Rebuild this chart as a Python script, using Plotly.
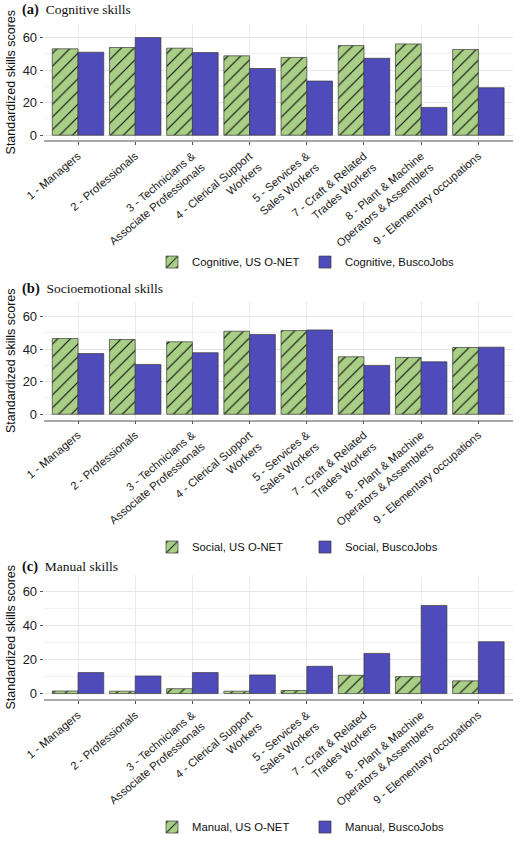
import plotly.graph_objects as go

categories = [
    "1 - Managers",
    "2 - Professionals",
    "3 - Technicians &<br>Associate Professionals",
    "4 - Clerical Support<br>Workers",
    "5 - Services &<br>Sales Workers",
    "7 - Craft & Related<br>Trades Workers",
    "8 - Plant & Machine<br>Operators & Assemblers",
    "9 - Elementary occupations",
]

cog_onet = [53.1, 53.9, 53.5, 48.8, 47.8, 55.1, 56.1, 52.7]
cog_busco = [51.0, 60.0, 50.8, 41.0, 33.3, 47.3, 17.1, 29.2]
soc_onet = [46.5, 45.9, 44.5, 51.0, 51.4, 35.3, 34.9, 41.0]
soc_busco = [37.3, 30.6, 37.8, 49.0, 51.8, 30.0, 32.2, 41.2]
man_onet = [1.5, 1.4, 2.9, 1.4, 1.8, 10.8, 10.0, 7.5]
man_busco = [12.4, 10.4, 12.4, 11.0, 16.1, 23.7, 52.0, 30.6]

panel_titles = [("(a)", "Cognitive skills"), ("(b)", "Socioemotional skills"), ("(c)", "Manual skills")]
legend_names = [("Cognitive, US O-NET", "Cognitive, BuscoJobs"),
                ("Social, US O-NET", "Social, BuscoJobs"),
                ("Manual, US O-NET", "Manual, BuscoJobs")]
y_tick_vals = [0, 20, 40, 60]

GREEN = "#a9cf87"
BLUE = "#4f4bbb"
H = 842.0
W = 520.0

def py(px):
    return 1 - px / H

panels = [
    dict(top=24, bottom=141, yr=[-3.24, 68.4], leg=263, title=10),
    dict(top=303, bottom=421, yr=[-3.24, 69.0], leg=549, title=290),
    dict(top=577, bottom=702, yr=[-3.5, 70.0], leg=830, title=569),
]
data = [(cog_onet, cog_busco), (soc_onet, soc_busco), (man_onet, man_busco)]

fig = go.Figure()
x_dom = [43.7 / W, 512.7 / W]

annotations = []
for i, (p, (a, b)) in enumerate(zip(panels, data)):
    n = "" if i == 0 else str(i + 1)
    leg = "legend" if i == 0 else f"legend{i+1}"
    fig.add_trace(go.Bar(
        x=categories, y=a, name=legend_names[i][0], xaxis="x" + n, yaxis="y" + n,
        legend=leg,
        marker=dict(color=GREEN, line=dict(color="#3a3a3a", width=0.7),
                    pattern=dict(shape="/", fillmode="overlay", fgcolor="#111111",
                                 fgopacity=1, size=9, solidity=0.13)),
    ))
    fig.add_trace(go.Bar(
        x=categories, y=b, name=legend_names[i][1], xaxis="x" + n, yaxis="y" + n,
        legend=leg,
        marker=dict(color=BLUE, line=dict(color="#3a3a3a", width=0.7)),
    ))
    fig.layout["xaxis" + n] = dict(
        domain=x_dom, anchor="y" + n, range=[-0.6, 7.6], automargin=False,
        showline=True, linecolor="#a8a8a8", linewidth=1.5,
        ticks="outside", ticklen=3, tickcolor="#555555",
        showgrid=True, gridcolor="#ebebeb", gridwidth=1,
        tickangle=-40, tickfont=dict(family="Liberation Sans, Arial", size=11.3, color="#1a1a1a"),
        fixedrange=True,
    )
    fig.layout["yaxis" + n] = dict(
        domain=[py(p["bottom"]), py(p["top"])], anchor="x" + n, range=p["yr"],
        automargin=False,
        tickvals=y_tick_vals, ticks="outside", ticklen=3, tickcolor="#555555",
        showgrid=True, gridcolor="#e6e6e6", gridwidth=1, zeroline=False,
        minor=dict(dtick=10, tick0=0, showgrid=True, gridcolor="#f2f2f2", gridwidth=1),
        tickfont=dict(family="Liberation Sans, Arial", size=13, color="#222222"),
        title=dict(text="Standardized skills scores", standoff=4,
                   font=dict(family="Liberation Sans, Arial", size=12.5, color="#111111")),
    )
    fig.layout[leg] = dict(
        orientation="h", x=152 / W, xanchor="left", y=py(p["leg"]), yanchor="middle",
        font=dict(family="Liberation Sans, Arial", size=11.3, color="#111111"),
        bgcolor="rgba(0,0,0,0)", itemwidth=30, entrywidth=108,
    )
    annotations.append(dict(
        text=f"<b><span style='font-size:14.5px'>{panel_titles[i][0]}</span></b>  {panel_titles[i][1]}",
        x=20 / W, xref="paper", xanchor="left",
        y=py(p["title"]), yref="paper", yanchor="middle", showarrow=False,
        font=dict(family="Liberation Serif, Times New Roman", size=13.5, color="#111111"),
    ))

fig.update_layout(
    width=520, height=842, margin=dict(l=0, r=0, t=0, b=0),
    paper_bgcolor="white", plot_bgcolor="white",
    barmode="group", bargap=0.1, bargroupgap=0,
    annotations=annotations, showlegend=True,
)

fig.write_html("out.html")
